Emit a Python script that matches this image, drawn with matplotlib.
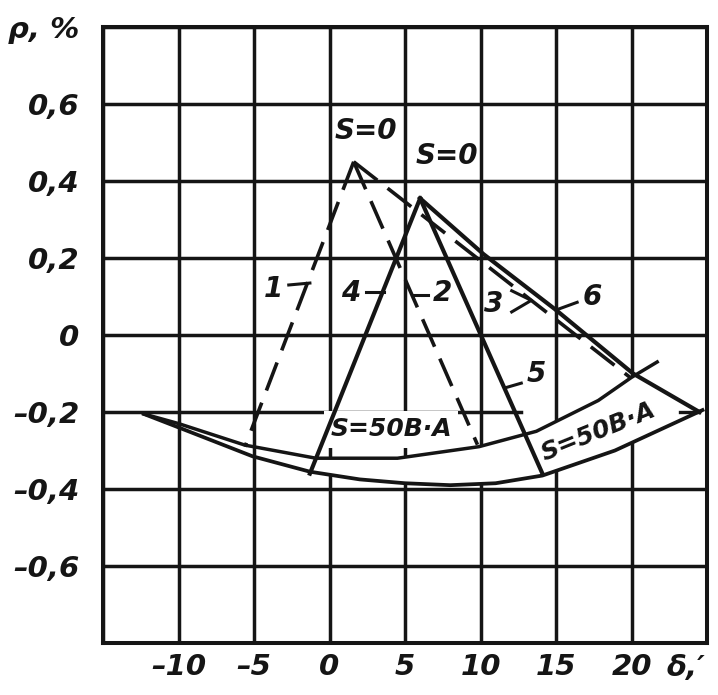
import numpy as np
import matplotlib
matplotlib.use('Agg')
import matplotlib.pyplot as plt

# ---------------- data ----------------
x_ticks = [-15, -10, -5, 0, 5, 10, 15, 20, 25]
x_tick_labels = ['', '–10', '–5', '0', '5', '10', '15', '20', '']
y_ticks = [-0.8, -0.6, -0.4, -0.2, 0.0, 0.2, 0.4, 0.6, 0.8]
y_tick_labels = ['', '–0,6', '–0,4', '–0,2', '0', '0,2', '0,4', '0,6', 'ρ, %']
x_axis_label = 'δ,′'

# dashed family (peak A, S = 0)
line1_x = [1.6, -5.6]
line1_y = [0.45, -0.29]
line2_x = [1.6, 9.8]
line2_y = [0.45, -0.285]
line3_x = [1.6, 19.9]
line3_y = [0.45, -0.11]

# solid family (peak B, S = 0)
line4_x = [6.0, -1.3]
line4_y = [0.355, -0.36]
line5_x = [6.0, 14.1]
line5_y = [0.355, -0.36]
line6_x = [6.0, 10.2, 15.0, 20.1, 24.5]
line6_y = [0.355, 0.21, 0.065, -0.10, -0.20]

# S = 50 V·A loci
upper_arc_x = [-12.3, -10.0, -5.6, -0.9, 4.5, 9.9, 13.7, 17.8, 20.0, 21.7]
upper_arc_y = [-0.205, -0.23, -0.286, -0.32, -0.32, -0.29, -0.25, -0.17, -0.11, -0.07]
lower_arc_x = [-12.3, -10.0, -5.1, -1.3, 2.0, 5.0, 8.0, 11.0, 14.1, 18.9, 24.7]
lower_arc_y = [-0.205, -0.24, -0.315, -0.355, -0.375, -0.385, -0.39, -0.385, -0.365, -0.30, -0.195]

# annotations
s0_text = ['S=0', 'S=0']
s0_x = [2.4, 7.8]
s0_y = [0.53, 0.465]
num_text = ['1', '2', '3', '4', '5', '6']
num_x = [-3.7, 7.5, 10.9, 1.4, 13.7, 17.4]
num_y = [0.12, 0.11, 0.08, 0.11, -0.10, 0.10]
leader_x = [(-2.7, -1.3), (5.45, 6.5), None, (2.4, 3.6), (11.6, 12.7), (15.0, 16.4)]
leader_y = [(0.13, 0.135), (0.105, 0.105), None, (0.113, 0.113), (-0.1375, -0.125), (0.065, 0.085)]
s50_text = 'S=50В·А'
s50_x = [4.1, 17.8]
s50_y = [-0.245, -0.252]
s50_rot = [0, 22]
grid_cut_y = -0.2      # this horizontal grid line is not drawn right of grid_cut_x
grid_cut_x = 12.7

# ---------------- drawing ----------------
ink = '#151515'
plt.rcParams['font.family'] = ['DejaVu Sans']
fig = plt.figure(figsize=(7.18, 6.95), dpi=100)
fig.patch.set_facecolor('white')
ax = fig.add_axes([0.1435, 0.0748, 0.8412, 0.8863])
ax.set_xlim(-15, 25)
ax.set_ylim(-0.8, 0.8)

tick_font = dict(fontsize=21, style='italic', weight='bold', color=ink)
ax.set_xticks(x_ticks)
ax.set_xticklabels(x_tick_labels, **tick_font)
ax.set_yticks(y_ticks)
ax.set_yticklabels(y_tick_labels, **tick_font)
ax.tick_params(axis='x', length=0, pad=7)
ax.tick_params(axis='y', length=0, pad=17)
ax.grid(True, axis='x', color=ink, lw=2.5, zorder=0.5)
x0, x1 = ax.get_xlim()
for yv in y_ticks:
    xmax = (grid_cut_x - x0) / (x1 - x0) if yv == grid_cut_y else 1.0
    ax.axhline(yv, xmin=0, xmax=xmax, color=ink, lw=2.5, zorder=0.5)
ax.set_axisbelow(True)
for s in ax.spines.values():
    s.set_linewidth(2.9)
    s.set_color(ink)

# white band between the two S=50 loci (grid erased there, as in the drawing)
xb = np.linspace(-0.5, 24.7, 500)
up = np.minimum(np.interp(xb, upper_arc_x, upper_arc_y), np.interp(xb, line6_x, line6_y))
lo = np.interp(xb, lower_arc_x, lower_arc_y)
ax.fill_between(xb, lo, up, where=up > lo, color='white', lw=0, zorder=1)

dash = (8.3, 3.6)
for lx, ly in [(line1_x, line1_y), (line2_x, line2_y), (line3_x, line3_y)]:
    ax.plot(lx, ly, color=ink, lw=2.6, dashes=dash, zorder=3)
for lx, ly in [(line4_x, line4_y), (line5_x, line5_y), (line6_x, line6_y)]:
    ax.plot(lx, ly, color=ink, lw=3.0, zorder=3, solid_joinstyle='round')
ax.plot(upper_arc_x, upper_arc_y, color=ink, lw=2.5, zorder=3)
ax.plot(lower_arc_x, lower_arc_y, color=ink, lw=2.7, zorder=3)

# arrowhead stroke at end of curve 6
ax.plot([line6_x[-1] - 1.3, line6_x[-1]], [line6_y[-1], line6_y[-1]], color=ink, lw=2.4, zorder=3)

txt = dict(style='italic', weight='bold', color=ink, ha='center', va='center')
for t, x, y in zip(s0_text, s0_x, s0_y):
    ax.text(x, y, t, fontsize=20, zorder=2, **txt)
for t, x, y, lx, ly in zip(num_text, num_x, num_y, leader_x, leader_y):
    ax.text(x, y, t, fontsize=20, zorder=2, **txt)
    if lx is not None:
        ax.plot(lx, ly, color=ink, lw=2.2, zorder=3)

# chevron leader of label 3 (tip on curve 3)
t3 = (line3_y[0] - 0.09) / (line3_y[0] - line3_y[1])
tipx = line3_x[0] + t3 * (line3_x[1] - line3_x[0])
ax.plot([tipx - 1.3, tipx, tipx - 1.3], [0.115, 0.09, 0.06], color=ink, lw=2.2, zorder=3)

for x, y, r in zip(s50_x, s50_y, s50_rot):
    ax.text(x, y, s50_text, fontsize=18, rotation=r, rotation_mode='anchor', zorder=2,
            bbox=dict(boxstyle='square,pad=0.25', fc='white', ec='none'), **txt)

fig.text(686 / 718, 1 - 668 / 695, x_axis_label, fontsize=21, style='italic', weight='bold',
         color=ink, ha='center', va='center')

fig.savefig('out.png', dpi=100, facecolor='white')
